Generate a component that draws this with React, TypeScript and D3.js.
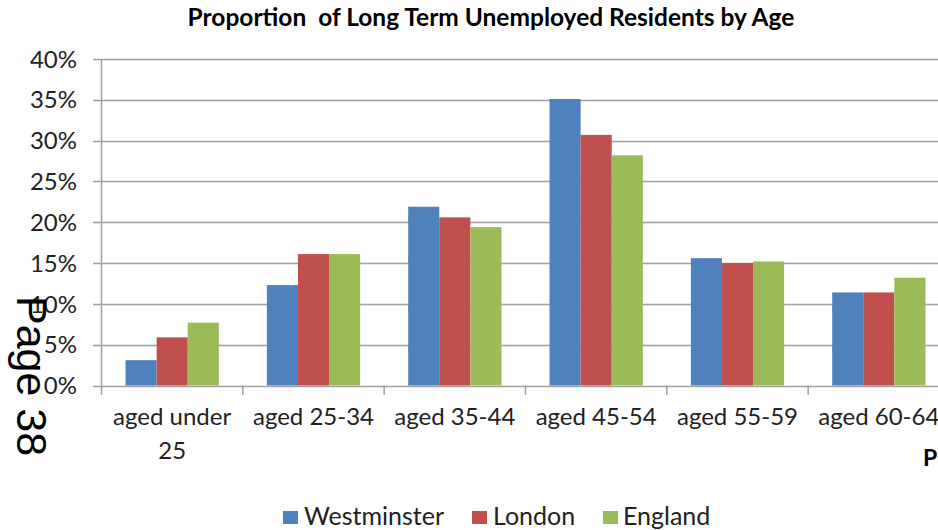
import React from "react";
import * as d3 from "d3";

const categories = ["aged under 25", "aged 25-34", "aged 35-44", "aged 45-54", "aged 55-59", "aged 60-64"];
const seriesNames = ["Westminster", "London", "England"];
const westminster = [3.1, 12.3, 21.9, 35.1, 15.6, 11.4];
const london = [5.9, 16.1, 20.6, 30.7, 15.0, 11.4];
const england = [7.7, 16.1, 19.4, 28.2, 15.2, 13.2];
const colors = ["#4F81BD", "#C0504D", "#9BBB59"];
const yTicks = [0, 5, 10, 15, 20, 25, 30, 35, 40];

const W = 938, H = 530;
const FONT = "Lato, 'Open Sans', sans-serif";

function wrap(label: string, maxChars: number): string[] {
  const words = label.split(" ");
  const lines: string[] = [];
  let cur = "";
  for (const w of words) {
    const t = cur ? cur + " " + w : w;
    if (t.length > maxChars && cur) {
      lines.push(cur);
      cur = w;
    } else cur = t;
  }
  if (cur) lines.push(cur);
  return lines;
}

export default function App() {
  const values = [westminster, london, england];
  const x0 = d3.scaleBand<string>().domain(categories).range([101.5, 949.5]).paddingInner(0.34).paddingOuter(0.17);
  const x1 = d3.scaleBand<string>().domain(seriesNames).range([0, x0.bandwidth()]).padding(0);
  const y = d3.scaleLinear().domain([0, 40]).range([385.5, 59]);
  const step = x0.step();
  const axisX = 101.5;

  const legendItems = [
    { name: seriesNames[0], sq: 283, tx: 304 },
    { name: seriesNames[1], sq: 472, tx: 493 },
    { name: seriesNames[2], sq: 603, tx: 623 },
  ];

  return (
    <svg width={W} height={H} style={{ position: "absolute", left: 0, top: 0, background: "#fff" }}>
      <text x={491} y={26} textAnchor="middle" fontFamily={FONT} fontWeight="bold" fontSize={24.5} fill="#000">
        Proportion{"\u00a0 "}of Long Term Unemployed Residents by Age
      </text>
      {yTicks.map((t) => (
        <g key={t}>
          <line x1={93} x2={950} y1={Math.round(y(t)) + 0.5} y2={Math.round(y(t)) + 0.5} stroke="#A0A0A0" strokeWidth={1.5} />
          <text x={77} y={y(t)} dy="0.36em" textAnchor="end" fontFamily={FONT} fontSize={24} fill="#222">
            {t}%
          </text>
        </g>
      ))}
      <line x1={axisX} x2={axisX} y1={59} y2={385.5} stroke="#A0A0A0" strokeWidth={1.5} />
      {categories.map((c, i) => {
        const bx = (x0(c) as number) - step * 0.17;
        return <line key={"t" + i} x1={bx} x2={bx} y1={385.5} y2={395} stroke="#A0A0A0" strokeWidth={1.5} />;
      })}
      {categories.map((c, i) => (
        <g key={c}>
          {seriesNames.map((s, j) => (
            <rect
              key={s}
              x={(x0(c) as number) + (x1(s) as number)}
              y={y(values[j][i])}
              width={x1.bandwidth()}
              height={y(0) - y(values[j][i])}
              fill={colors[j]}
            />
          ))}
        </g>
      ))}
      {categories.map((c) => {
        const cx = (x0(c) as number) + x0.bandwidth() / 2;
        const lines = wrap(c, 11);
        return (
          <text key={"l" + c} textAnchor="middle" fontFamily={FONT} fontSize={24} fill="#222">
            {lines.map((ln, k) => (
              <tspan key={k} x={cx} y={425 + k * 34}>
                {ln}
              </tspan>
            ))}
          </text>
        );
      })}
      {legendItems.map((it, j) => (
        <g key={it.name}>
          <rect x={it.sq} y={511} width={15} height={13} fill={colors[j]} />
          <text x={it.tx} y={525} fontFamily={FONT} fontSize={25} fill="#222">
            {it.name}
          </text>
        </g>
      ))}
      <text x={930} y={466} textAnchor="middle" fontFamily={FONT} fontWeight="bold" fontSize={23} fill="#000">
        P
      </text>
      <text transform="translate(17,296) rotate(90)" fontFamily="'Liberation Sans', Arial, sans-serif" fontSize={43} fill="#000">
        Page 38
      </text>
    </svg>
  );
}
